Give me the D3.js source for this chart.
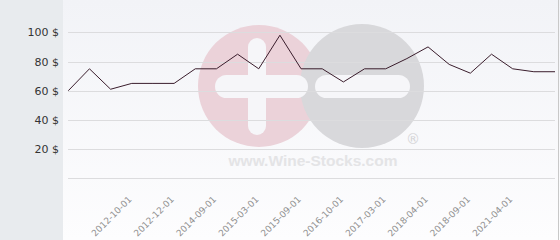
<!DOCTYPE html>
<html><head><meta charset="utf-8">
<script src="https://cdn.jsdelivr.net/npm/d3@7"></script>
<style>html,body{margin:0;padding:0;background:#fff}svg{display:block}</style>
</head><body>
<svg id="c" width="560" height="240"></svg>
<script>
// Categories (only every other one carries a visible label)
const categories = ["", "", "", "2012-10-01", "", "2012-12-01", "", "2014-09-01", "", "2015-03-01",
  "", "2015-09-01", "", "2016-10-01", "", "2017-03-01", "", "2018-04-01", "", "2018-09-01",
  "", "2021-04-01", "", ""];
const prices = [60, 75, 61, 65, 65, 65, 75, 75, 85, 75, 98, 75, 75, 66, 75, 75, 82, 90, 78, 72, 85, 75, 73, 73];
const yTicks = [0, 20, 40, 60, 80, 100];
const yTickLabels = ["", "20 $", "40 $", "60 $", "80 $", "100 $"];

const svg = d3.select("#c");
const W = 560, H = 240;
const defs = svg.append("defs");
const grad = defs.append("linearGradient").attr("id", "bg").attr("x1", 0).attr("y1", 0).attr("x2", 0).attr("y2", 1);
grad.append("stop").attr("offset", "0%").attr("stop-color", "#f2f3f7");
grad.append("stop").attr("offset", "100%").attr("stop-color", "#fdfdfe");

// backgrounds
svg.append("rect").attr("x", 0).attr("y", 0).attr("width", W).attr("height", H).attr("fill", "url(#bg)");
svg.append("rect").attr("x", 0).attr("y", 0).attr("width", 63).attr("height", H).attr("fill", "#e8ebee");
svg.append("line").attr("x1", 558.5).attr("x2", 558.5).attr("y1", 0).attr("y2", H).attr("stroke", "#c8c8c8");

const x = d3.scalePoint().domain(d3.range(categories.length)).range([68.3, 555]);
const y = d3.scaleLinear().domain([0, 100]).range([178.3, 32.3]);

// watermark
const wm = svg.append("g");
wm.append("circle").attr("cx", 259).attr("cy", 86).attr("r", 61).attr("fill", "#ebd2d9");
wm.append("circle").attr("cx", 362).attr("cy", 86).attr("r", 62).attr("fill", "#d8d8db");
wm.append("rect").attr("x", 248).attr("y", 38).attr("width", 18).attr("height", 97).attr("rx", 9).attr("fill", "#f6f6f9");
wm.append("rect").attr("x", 215).attr("y", 75).attr("width", 93).attr("height", 23).attr("rx", 11.5).attr("fill", "#f6f6f9");
wm.append("rect").attr("x", 315).attr("y", 75).attr("width", 95).attr("height", 23).attr("rx", 11.5).attr("fill", "#f6f6f9");
wm.append("text").attr("x", 413).attr("y", 144).attr("text-anchor", "middle")
  .attr("font-family", "DejaVu Sans, sans-serif").attr("font-size", 14).attr("fill", "#d4d4d6").text("®");
wm.append("text").attr("x", 313).attr("y", 166).attr("text-anchor", "middle")
  .attr("font-family", "Liberation Sans, Arial, sans-serif").attr("font-weight", "bold").attr("font-size", 15.5)
  .attr("fill", "#e4e4e6").text("www.Wine-Stocks.com");

// gridlines
svg.append("g").selectAll("line").data(yTicks).join("line")
  .attr("x1", 68).attr("x2", 555)
  .attr("y1", d => Math.round(y(d)) + 0.5).attr("y2", d => Math.round(y(d)) + 0.5)
  .attr("stroke", "#dcdcde").attr("stroke-width", 1);

// y axis labels
const yAxis = d3.axisLeft(y).tickValues(yTicks).tickSize(0).tickPadding(0)
  .tickFormat((d, i) => yTickLabels[i]);
const ya = svg.append("g").attr("transform", "translate(59,0)").call(yAxis);
ya.select(".domain").remove();
ya.selectAll("text").attr("font-family", "DejaVu Sans, sans-serif").attr("font-size", 11).attr("fill", "#333");

// x axis labels
const xAxis = d3.axisBottom(x).tickSize(0).tickPadding(0).tickFormat(i => categories[i]);
const xa = svg.append("g").attr("transform", "translate(0,200)").call(xAxis);
xa.select(".domain").remove();
xa.selectAll("text").attr("font-family", "DejaVu Sans, sans-serif").attr("font-size", 9).attr("fill", "#909090")
  .attr("dy", 0).attr("y", 0).attr("text-anchor", "end").attr("transform", "rotate(-45)");

// line
svg.append("path").datum(prices)
  .attr("d", d3.line().x((d, i) => x(i)).y(d => y(d)))
  .attr("fill", "none").attr("stroke", "#3a1d2c").attr("stroke-width", 1);
</script>
</body></html>
